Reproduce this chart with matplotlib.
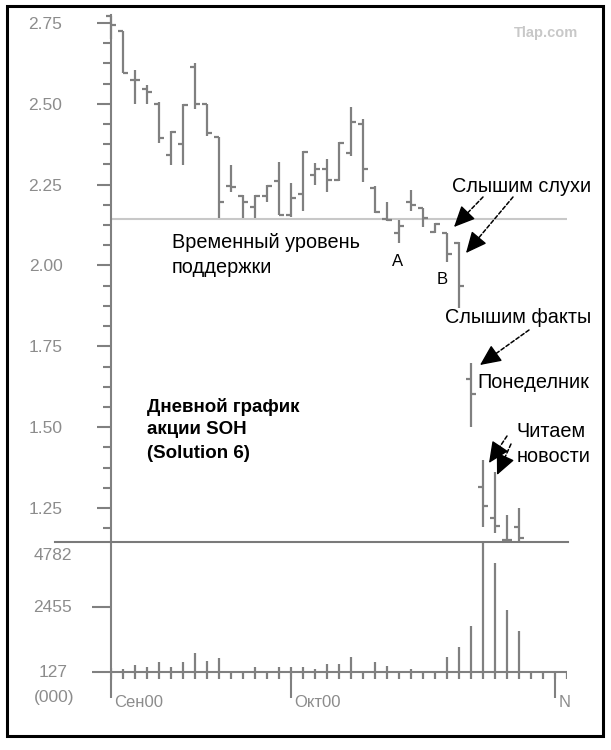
import numpy as np
import matplotlib
matplotlib.use("Agg")
import matplotlib.pyplot as plt
from matplotlib.patches import Rectangle
from matplotlib.lines import Line2D

plt.rcParams['font.family'] = ['Liberation Sans', 'DejaVu Sans']

# дневные бары SOH (открытие / максимум / минимум / закрытие)
opens = [2.773, 2.726, 2.575, 2.545, 2.500, 2.342, 2.376, 2.615, 2.500, 2.396,
         2.246, 2.215, 2.180, 2.215, 2.260, 2.156, 2.221, 2.280, 2.297, 2.264,
         2.347, 2.437, 2.240, 2.145, 2.100, 2.197, 2.177, 2.105, 2.100, 2.070,
         1.650, 1.316, 1.218, 1.150, 1.192]
highs = [2.773, 2.726, 2.605, 2.558, 2.505, 2.415, 2.498, 2.625, 2.500, 2.396,
         2.310, 2.218, 2.218, 2.248, 2.320, 2.256, 2.354, 2.318, 2.328, 2.381,
         2.490, 2.452, 2.247, 2.197, 2.140, 2.233, 2.178, 2.130, 2.100, 2.073,
         1.699, 1.398, 1.360, 1.228, 1.250]
lows = [2.700, 2.596, 2.500, 2.499, 2.380, 2.310, 2.310, 2.483, 2.400, 2.148,
        2.228, 2.148, 2.148, 2.197, 2.155, 2.150, 2.170, 2.250, 2.228, 2.262,
        2.339, 2.258, 2.161, 2.138, 2.069, 2.170, 2.120, 2.100, 2.012, 1.870,
        1.501, 1.190, 1.171, 1.146, 1.146]
closes = [2.745, 2.596, 2.575, 2.538, 2.395, 2.412, 2.496, 2.499, 2.410, 2.195,
          2.244, 2.197, 2.215, 2.246, 2.157, 2.208, 2.352, 2.297, 2.264, 2.380,
          2.445, 2.297, 2.166, 2.140, 2.122, 2.188, 2.148, 2.128, 2.035, 1.937,
          1.602, 1.256, 1.195, 1.150, 1.158]
# объём (тыс.)
volumes = [300, 241, 393, 333, 489, 333, 489, 830, 535, 652,
           134, 191, 312, 134, 312, 333, 312, 241, 429, 429,
           667, 191, 489, 368, 191, 251, 191, 127, 667, 1043,
           1778, 4782, 4025, 2346, 1611, 127, 127, 127, 127]
support = 2.145
price_ticks = [1.25, 1.50, 1.75, 2.00, 2.25, 2.50, 2.75]
vol_ticks = [127, 2455, 4782]
date_pos = [0, 15, 37]
date_labels = ['Сен00', 'Окт00', 'N']

W, H = 611, 750
fig = plt.figure(figsize=(6.11, 7.5), dpi=100)


def fx(x):
    return x / W


def fy(y):
    return 1 - y / H


def px(x, y):
    return (x, H - y)


gray = '#808080'
lab = '#8c8c8c'
vol_floor = -110

ax = fig.add_axes([fx(111), fy(542), fx(567) - fx(111), fy(15) - fy(542)])
axv = fig.add_axes([fx(111), fy(679), fx(567) - fx(111), fy(542) - fy(679)])

# цена
ax.set_xlim(0, 38)
ax.set_ylim(1.1447, 2.7747)
for s in ['top', 'right', 'bottom']:
    ax.spines[s].set_visible(False)
ax.spines['left'].set_color(gray)
ax.spines['left'].set_linewidth(1.5)
ax.set_xticks([])
ax.set_yticks(price_ticks)
ax.set_yticklabels(['%.2f' % t for t in price_ticks])
ax.set_yticks(np.arange(1.1875, 2.76, 0.0625), minor=True)
ax.tick_params(axis='y', which='major', length=10, width=1.5, color=gray,
               labelcolor=lab, labelsize=12.5, pad=25)
ax.tick_params(axis='y', which='minor', length=5.8, width=1.5, color=gray)

x = np.arange(len(opens))
ax.axhline(support, color='#c8c8c8', lw=1.5, zorder=0)
ax.vlines(x, lows, highs, color=gray, lw=1.6, clip_on=False)
ax.hlines(opens, x - 0.45, x, color=gray, lw=1.6, clip_on=False)
ax.hlines(closes, x, x + 0.45, color=gray, lw=1.6, clip_on=False)

# объём
xv = np.arange(len(volumes))
axv.set_xlim(0, 38)
axv.set_ylim(vol_floor, 4782)
for s in ['top', 'right', 'bottom']:
    axv.spines[s].set_visible(False)
axv.spines['left'].set_color(gray)
axv.spines['left'].set_linewidth(1.5)
axv.axhline(127, color=gray, lw=1.5)
axv.vlines(xv, vol_floor, volumes, color=gray, lw=1.6)
axv.set_yticks(vol_ticks[:2])
axv.set_yticklabels([])
axv.tick_params(axis='y', length=13.7, width=1.5, color=gray)
axv.set_xticks(date_pos)
axv.set_xticklabels([])
axv.tick_params(axis='x', length=13.7, width=1.5, color=gray, direction='out')

for v, dy in zip(vol_ticks, [0, 0, -9.4]):
    axv.annotate(str(v), xy=(0, v), xycoords=('axes fraction', 'data'),
                 xytext=(-42, dy), textcoords='offset points', ha='center',
                 va='center', color=lab, fontsize=12.5, annotation_clip=False)
axv.annotate('(000)', xy=(0, 127), xycoords=('axes fraction', 'data'),
             xytext=(-41, -18), textcoords='offset points', ha='center',
             va='center', color=lab, fontsize=12.5, annotation_clip=False)
for d, t in zip(date_pos, date_labels):
    axv.annotate(t, xy=(d, 0), xycoords=('data', 'axes fraction'),
                 xytext=(2.5, -16.6), textcoords='offset points', ha='left',
                 va='center', color=lab, fontsize=12, annotation_clip=False)

# рамка и разделитель
fig.add_artist(Rectangle((fx(7), fy(736)), fx(603) - fx(7), fy(6) - fy(736),
                         transform=fig.transFigure, fill=False, lw=2.2, ec='black'))
fig.add_artist(Line2D([fx(55), fx(568)], [fy(542), fy(542)],
                      transform=fig.transFigure, color='#7a7a7a', lw=1.5))

fig.text(fx(546), fy(33), 'Tlap.com', color='#c8c8c8', fontsize=10.5,
         fontweight='bold', ha='center', va='center')

# подписи
fs = 14.3
fig.text(fx(452), fy(186), 'Слышим слухи', fontsize=fs, va='center')
fig.text(fx(172), fy(242), 'Временный уровень', fontsize=fs, va='center')
fig.text(fx(172), fy(268), 'поддержки', fontsize=fs, va='center')
fig.text(fx(397.5), fy(261), 'A', fontsize=12, va='center', ha='center')
fig.text(fx(441.7), fy(279), 'B', fontsize=12, va='center', ha='center')
fig.text(fx(445), fy(318), 'Слышим факты', fontsize=fs, va='center')
fig.text(fx(477), fy(382), 'Понеделник', fontsize=fs, va='center')
fig.text(fx(517), fy(432), 'Читаем', fontsize=fs, va='center')
fig.text(fx(517), fy(457), 'новости', fontsize=fs, va='center')
for line, yy in zip(['Дневной график', 'акции SOH', '(Solution 6)'], [407, 430, 453]):
    fig.text(fx(147), fy(yy), line, fontsize=13.5, fontweight='bold', va='center')

# стрелки: пунктирный хвост + сплошной наконечник
arrows = [((483, 197), (454, 227)), ((513, 197), (466, 253)),
          ((529, 330), (480, 365)), ((507, 436), (489, 463)),
          ((511, 444), (497, 475)), ((432, 663), (469, 619))]
for tail, head in arrows:
    ax.annotate('', xy=px(*head), xycoords='figure pixels',
                xytext=px(*tail), textcoords='figure pixels',
                annotation_clip=False,
                arrowprops=dict(arrowstyle='-', color='black', lw=1.1,
                                ls=(0, (2.5, 1.5)), shrinkA=0, shrinkB=10))
    d = np.array(head, float) - np.array(tail, float)
    d = d / np.hypot(*d)
    near = np.array(head, float) - 14 * d
    ax.annotate('', xy=px(*head), xycoords='figure pixels',
                xytext=px(*near), textcoords='figure pixels',
                annotation_clip=False,
                arrowprops=dict(arrowstyle='-|>,head_length=1.3,head_width=0.6',
                                color='black', lw=1.0, shrinkA=0, shrinkB=0,
                                mutation_scale=10))

fig.savefig('out.png', dpi=100, facecolor='white')
